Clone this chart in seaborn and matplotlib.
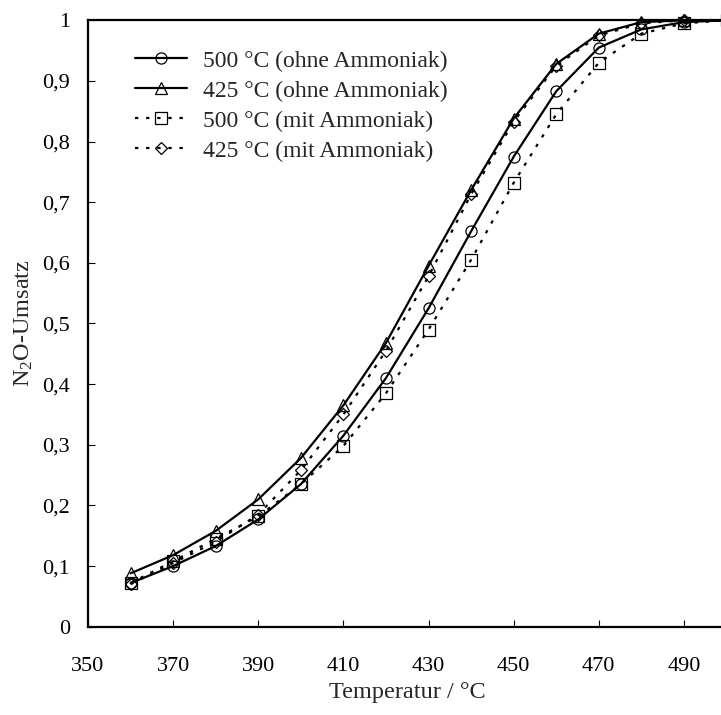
import matplotlib
matplotlib.use("Agg")
import matplotlib.pyplot as plt
import seaborn as sns
import pandas as pd
from matplotlib.ticker import FuncFormatter, MultipleLocator

temps = [360, 370, 380, 390, 400, 410, 420, 430, 440, 450, 460, 470, 480, 490, 500]
s500_ohne = [0.072, 0.100, 0.133, 0.177, 0.235, 0.315, 0.410, 0.525, 0.652, 0.775, 0.883, 0.955, 0.985, 0.997, 1.000]
s425_ohne = [0.088, 0.118, 0.158, 0.210, 0.278, 0.365, 0.468, 0.595, 0.720, 0.838, 0.928, 0.978, 0.997, 1.000, 1.000]
s500_mit = [0.072, 0.108, 0.145, 0.182, 0.235, 0.298, 0.385, 0.490, 0.605, 0.732, 0.845, 0.930, 0.978, 0.995, 1.000]
s425_mit = [0.070, 0.105, 0.140, 0.185, 0.258, 0.350, 0.455, 0.578, 0.713, 0.833, 0.925, 0.975, 0.995, 1.000, 1.000]

labels = ["500 °C (ohne Ammoniak)", "425 °C (ohne Ammoniak)",
          "500 °C (mit Ammoniak)", "425 °C (mit Ammoniak)"]
series = [s500_ohne, s425_ohne, s500_mit, s425_mit]
xticks = [350, 370, 390, 410, 430, 450, 470, 490]

rows = []
for lab, vals in zip(labels, series):
    for t, v in zip(temps, vals):
        rows.append({"T": t, "U": v, "Serie": lab})
df = pd.DataFrame(rows)

sns.set_style("white")
plt.rcParams['font.family'] = ['Liberation Serif', 'DejaVu Serif']
plt.rcParams['mathtext.fontset'] = 'custom'
plt.rcParams['mathtext.rm'] = 'Liberation Serif'
plt.rcParams['mathtext.it'] = 'Liberation Serif:italic'

W, H = 721, 715
fig = plt.figure(figsize=(W / 100, H / 100), dpi=100)
ax = fig.add_axes([88/W, (H-626.7)/H, (726.5-88)/W, (626.7-20.3)/H])

markers = {labels[0]: 'o', labels[1]: '^', labels[2]: 's', labels[3]: 'D'}
dashes = {labels[0]: "", labels[1]: "", labels[2]: (1.5, 3.5), labels[3]: (1.5, 3.5)}
palette = {l: 'black' for l in labels}

sns.lineplot(data=df, x="T", y="U", hue="Serie", style="Serie", markers=markers,
             dashes=dashes, palette=palette, ax=ax, linewidth=1.6, markersize=8,
             markerfacecolor='none', markeredgecolor='black', markeredgewidth=0.9,
             clip_on=False)
for ln in ax.get_lines():
    if ln.get_marker() == 'D':
        ln.set_markersize(6.5)
    if ln.get_marker() == '^':
        ln.set_markersize(8.5)

ax.set_xlim(350, 500)
ax.set_ylim(0, 1)
ax.set_xticks(xticks)
ax.yaxis.set_major_locator(MultipleLocator(0.1))
ax.yaxis.set_major_formatter(FuncFormatter(lambda v, p: ("%d" % round(v)) if abs(v - round(v)) < 1e-9 else ("%.1f" % v).replace('.', ',')))

for side in ['left', 'bottom', 'top']:
    ax.spines[side].set_visible(True)
    ax.spines[side].set_color('black')
    ax.spines[side].set_linewidth(1.6)
ax.spines['right'].set_visible(False)

ax.tick_params(axis='x', direction='in', length=5, width=0.8, pad=22, labelsize=16, colors='black', bottom=True)
ax.tick_params(axis='y', direction='in', length=5, width=0.8, pad=13, labelsize=16, colors='black', left=True)

ax.set_xlabel("Temperatur / °C", fontsize=17.5, labelpad=4)
ax.set_ylabel(r"N$_\mathregular{2}$O-Umsatz", fontsize=17.5, labelpad=5)

handles, labs = ax.get_legend_handles_labels()
fs = 17
fs_px = fs * 100 / 72


def make_legend(ls, anchor):
    leg = ax.legend(handles, labs, loc='upper left', bbox_to_anchor=anchor,
                    bbox_transform=fig.transFigure, frameon=False, fontsize=fs,
                    handlelength=2.2, handletextpad=0.68, labelspacing=ls,
                    borderpad=0, borderaxespad=0)
    fig.canvas.draw()
    r = fig.canvas.get_renderer()
    ys = [(t.get_window_extent(r).y0 + t.get_window_extent(r).y1) / 2 for t in leg.get_texts()]
    x_text = leg.get_texts()[0].get_window_extent(r).x0
    return leg, ys, x_text


ls = 0.3
anchor = (130 / W, (H - 45) / H)
leg, ys, xt = make_legend(ls, anchor)
pitch = (ys[0] - ys[-1]) / 3
ls = ls + (30 - pitch) / fs_px
leg, ys, xt = make_legend(ls, anchor)
dy = (H - 61) - ys[0]
dx = 203 - xt
anchor = (anchor[0] + dx / W, anchor[1] + dy / H)
leg, ys, xt = make_legend(ls, anchor)

fig.savefig("out.png", dpi=100)
